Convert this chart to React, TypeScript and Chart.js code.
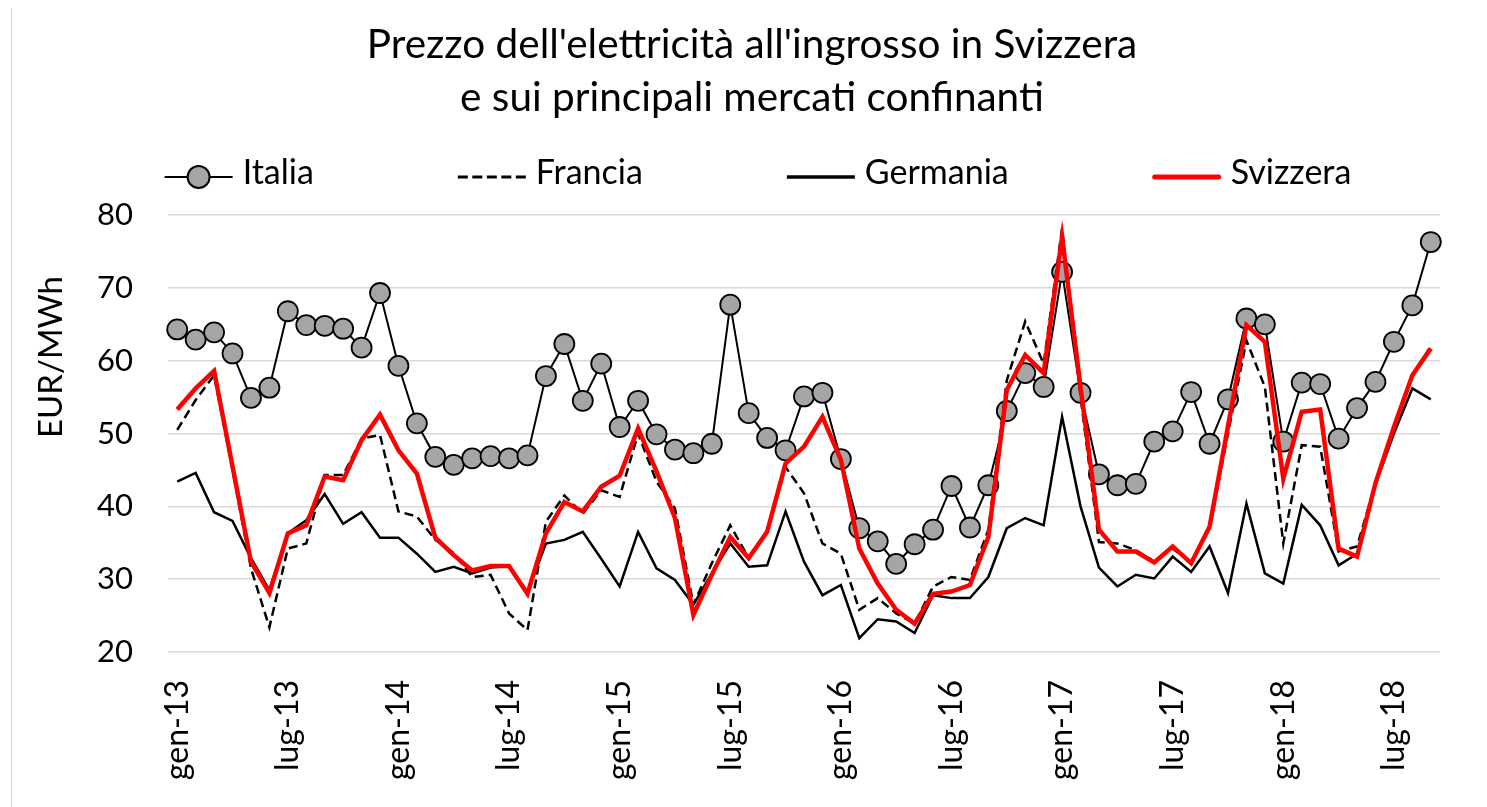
import React, { useEffect, useRef } from 'react';
import { Chart, registerables } from 'chart.js';

Chart.register(...registerables);

const CATEGORIES = [
  'gen-13', 'feb-13', 'mar-13', 'apr-13', 'mag-13', 'giu-13', 'lug-13', 'ago-13', 'set-13', 'ott-13', 'nov-13', 'dic-13',
  'gen-14', 'feb-14', 'mar-14', 'apr-14', 'mag-14', 'giu-14', 'lug-14', 'ago-14', 'set-14', 'ott-14', 'nov-14', 'dic-14',
  'gen-15', 'feb-15', 'mar-15', 'apr-15', 'mag-15', 'giu-15', 'lug-15', 'ago-15', 'set-15', 'ott-15', 'nov-15', 'dic-15',
  'gen-16', 'feb-16', 'mar-16', 'apr-16', 'mag-16', 'giu-16', 'lug-16', 'ago-16', 'set-16', 'ott-16', 'nov-16', 'dic-16',
  'gen-17', 'feb-17', 'mar-17', 'apr-17', 'mag-17', 'giu-17', 'lug-17', 'ago-17', 'set-17', 'ott-17', 'nov-17', 'dic-17',
  'gen-18', 'feb-18', 'mar-18', 'apr-18', 'mag-18', 'giu-18', 'lug-18', 'ago-18', 'set-18',
];

const ITALIA = [
  64.3, 62.9, 63.9, 61.0, 54.9, 56.3, 66.8, 64.9, 64.8, 64.4, 61.8, 69.3,
  59.3, 51.4, 46.8, 45.7, 46.6, 46.9, 46.6, 47.0, 57.9, 62.3, 54.5, 59.6,
  50.9, 54.5, 49.9, 47.8, 47.3, 48.6, 67.7, 52.8, 49.4, 47.7, 55.1, 55.6,
  46.5, 37.0, 35.2, 32.1, 34.8, 36.8, 42.8, 37.1, 42.9, 53.1, 58.3, 56.4,
  72.2, 55.6, 44.4, 42.9, 43.1, 48.9, 50.3, 55.7, 48.6, 54.7, 65.8, 65.0,
  48.9, 57.0, 56.8, 49.3, 53.5, 57.1, 62.6, 67.6, 76.3,
];

const FRANCIA = [
  50.5, 54.6, 58.0, 45.0, 31.5, 23.4, 34.2, 34.9, 44.3, 44.3, 49.3, 49.8,
  39.3, 38.6, 35.4, 33.6, 30.3, 30.6, 25.3, 23.0, 37.9, 41.5, 39.0, 42.2,
  41.3, 50.0, 43.4, 39.7, 26.5, 32.2, 37.4, 32.9, 36.5, 45.4, 41.8, 34.9,
  33.5, 25.8, 27.4, 25.3, 23.9, 29.0, 30.3, 29.9, 36.8, 57.3, 65.4, 59.6,
  78.2, 55.1, 35.1, 34.9, 34.0, 32.4, 34.2, 32.2, 37.0, 50.0, 62.8, 56.4,
  34.9, 48.4, 48.2, 33.8, 34.5, 43.2, 50.9, 57.8, 62.0,
];

const GERMANIA = [
  43.4, 44.6, 39.2, 38.0, 32.9, 28.5, 36.3, 38.1, 41.7, 37.6, 39.2, 35.7,
  35.7, 33.5, 31.0, 31.7, 30.8, 31.6, 31.8, 28.2, 34.9, 35.4, 36.5, 32.8,
  29.0, 36.5, 31.5, 29.9, 26.5, 30.8, 34.9, 31.7, 31.9, 39.3, 32.4, 27.8,
  29.2, 21.9, 24.5, 24.2, 22.6, 27.8, 27.4, 27.4, 30.3, 37.0, 38.4, 37.4,
  52.3, 40.0, 31.6, 29.0, 30.6, 30.1, 33.1, 31.0, 34.5, 28.1, 40.4, 30.8,
  29.4, 40.2, 37.4, 31.9, 33.5, 43.0, 50.0, 56.2, 54.7,
];

const SVIZZERA = [
  53.3, 56.2, 58.6, 45.5, 32.4, 28.1, 36.3, 37.4, 44.1, 43.6, 49.1, 52.6,
  47.7, 44.5, 35.7, 33.3, 31.2, 31.8, 31.8, 28.0, 36.3, 40.6, 39.3, 42.7,
  44.2, 50.7, 44.8, 38.4, 25.1, 30.6, 35.8, 32.9, 36.5, 45.9, 48.2, 52.3,
  46.4, 34.2, 29.4, 25.8, 23.9, 28.0, 28.3, 29.2, 35.8, 56.0, 60.8, 58.3,
  77.0, 56.4, 36.8, 33.8, 33.8, 32.3, 34.5, 32.2, 37.2, 51.0, 64.9, 62.6,
  43.8, 53.0, 53.3, 34.2, 33.1, 43.2, 50.9, 58.0, 61.7,
];

const TITLE_LINES = ["Prezzo dell'elettricità all'ingrosso in Svizzera", 'e sui principali mercati confinanti'];
const Y_TITLE = 'EUR/MWh';
const Y_TICKS = [20, 30, 40, 50, 60, 70, 80];
const LEGEND_NAMES = ['Italia', 'Francia', 'Germania', 'Svizzera'];

const FONT = 'Lato, "Open Sans", sans-serif';

const decorPlugin = {
  id: 'decor',
  beforeDraw(chart: any) {
    const ctx = chart.ctx;
    ctx.save();
    ctx.strokeStyle = '#d0d0d0';
    ctx.lineWidth = 1;
    ctx.beginPath();
    ctx.moveTo(11.5, 8);
    ctx.lineTo(11.5, chart.height);
    ctx.stroke();
    ctx.restore();
  },
  afterDraw(chart: any) {
    const ctx = chart.ctx;
    ctx.save();
    // y axis title
    ctx.fillStyle = '#000';
    ctx.font = `33px ${FONT}`;
    ctx.translate(62, 357);
    ctx.rotate(-Math.PI / 2);
    ctx.textAlign = 'center';
    ctx.textBaseline = 'alphabetic';
    ctx.fillText(Y_TITLE, 0, 0);
    ctx.restore();

    // legend
    ctx.save();
    ctx.font = `34px ${FONT}`;
    ctx.textBaseline = 'alphabetic';
    ctx.textAlign = 'left';
    const symW = 68;
    const symGap = 10;
    const itemGap = 144;
    const widths = LEGEND_NAMES.map((n) => ctx.measureText(n).width);
    const total = widths.reduce((a, w) => a + symW + symGap + w, 0) + itemGap * (LEGEND_NAMES.length - 1);
    let x = 758 - total / 2;
    const yLine = 177;
    const yText = 184;
    LEGEND_NAMES.forEach((name, i) => {
      ctx.save();
      ctx.lineCap = 'butt';
      if (i === 0) {
        ctx.strokeStyle = '#000';
        ctx.lineWidth = 2;
        ctx.beginPath();
        ctx.moveTo(x, yLine);
        ctx.lineTo(x + symW, yLine);
        ctx.stroke();
        ctx.beginPath();
        ctx.arc(x + symW / 2, yLine, 11, 0, Math.PI * 2);
        ctx.fillStyle = '#a5a5a5';
        ctx.fill();
        ctx.lineWidth = 2;
        ctx.stroke();
      } else if (i === 1) {
        ctx.strokeStyle = '#000';
        ctx.lineWidth = 3;
        ctx.setLineDash([10, 4.5]);
        ctx.beginPath();
        ctx.moveTo(x, yLine);
        ctx.lineTo(x + symW, yLine);
        ctx.stroke();
      } else if (i === 2) {
        ctx.strokeStyle = '#000';
        ctx.lineWidth = 3.5;
        ctx.beginPath();
        ctx.moveTo(x, yLine);
        ctx.lineTo(x + symW, yLine);
        ctx.stroke();
      } else {
        ctx.strokeStyle = '#ff0000';
        ctx.lineWidth = 5;
        ctx.lineCap = 'round';
        ctx.beginPath();
        ctx.moveTo(x + 2, yLine);
        ctx.lineTo(x + symW - 2, yLine);
        ctx.stroke();
      }
      ctx.restore();
      ctx.fillStyle = '#000';
      ctx.fillText(name, x + symW + symGap, yText);
      x += symW + symGap + widths[i] + itemGap;
    });
    ctx.restore();
  },
};

export default function App() {
  const ref = useRef<HTMLCanvasElement | null>(null);

  useEffect(() => {
    document.body.style.margin = '0';
    const canvas = ref.current;
    if (!canvas) return;
    const chart = new Chart(canvas, {
      type: 'line',
      data: {
        labels: CATEGORIES,
        datasets: [
          {
            label: LEGEND_NAMES[0],
            data: ITALIA,
            borderColor: '#000',
            borderWidth: 2,
            pointRadius: 10,
            pointHoverRadius: 10,
            pointBackgroundColor: '#a5a5a5',
            pointBorderColor: '#000',
            pointBorderWidth: 1.8,
            tension: 0,
            order: 4,
          },
          {
            label: LEGEND_NAMES[1],
            data: FRANCIA,
            borderColor: '#000',
            borderWidth: 2.5,
            borderDash: [9, 5],
            pointRadius: 0,
            tension: 0,
            order: 3,
          },
          {
            label: LEGEND_NAMES[2],
            data: GERMANIA,
            borderColor: '#000',
            borderWidth: 2.5,
            pointRadius: 0,
            tension: 0,
            order: 2,
          },
          {
            label: LEGEND_NAMES[3],
            data: SVIZZERA,
            borderColor: '#ff0000',
            borderWidth: 4.5,
            pointRadius: 0,
            tension: 0,
            order: 1,
          },
        ],
      },
      options: {
        responsive: false,
        animation: false,
        layout: { padding: { left: 17, right: 0, top: 0, bottom: 0 } },
        plugins: {
          legend: { display: false },
          tooltip: { enabled: false },
          title: {
            display: true,
            text: TITLE_LINES,
            color: '#000',
            font: { family: FONT, size: 40.5, weight: 'normal', lineHeight: 1.31 },
            padding: { top: 18, bottom: 91 },
          },
        },
        scales: {
          x: {
            type: 'category',
            offset: true,
            grid: { display: false, drawTicks: false },
            border: { display: false },
            ticks: {
              autoSkip: false,
              maxRotation: 90,
              minRotation: 90,
              padding: 28,
              color: '#000',
              font: { family: FONT, size: 32 },
              callback: (_v: any, i: number) => (i % 6 === 0 ? CATEGORIES[i] : null),
            },
            afterFit: (s: any) => {
              s.height = 155;
            },
          },
          y: {
            min: Y_TICKS[0],
            max: Y_TICKS[Y_TICKS.length - 1],
            grid: { color: '#d9d9d9', lineWidth: 1.5, drawTicks: false },
            border: { display: false },
            afterBuildTicks: (s: any) => {
              s.ticks = Y_TICKS.map((v) => ({ value: v }));
            },
            ticks: {
              padding: 35,
              color: '#000',
              font: { family: FONT, size: 31 },
            },
            afterFit: (s: any) => {
              s.width = 151;
            },
          },
          y2: {
            position: 'right',
            display: true,
            grid: { display: false, drawTicks: false },
            border: { display: false },
            ticks: { display: false },
            afterFit: (s: any) => {
              s.width = 47;
            },
          },
        },
      } as any,
      plugins: [decorPlugin],
    });
    return () => chart.destroy();
  }, []);

  return (
    <div style={{ width: 1487, height: 807, background: '#fff' }}>
      <canvas ref={ref} width={1487} height={807} />
    </div>
  );
}
